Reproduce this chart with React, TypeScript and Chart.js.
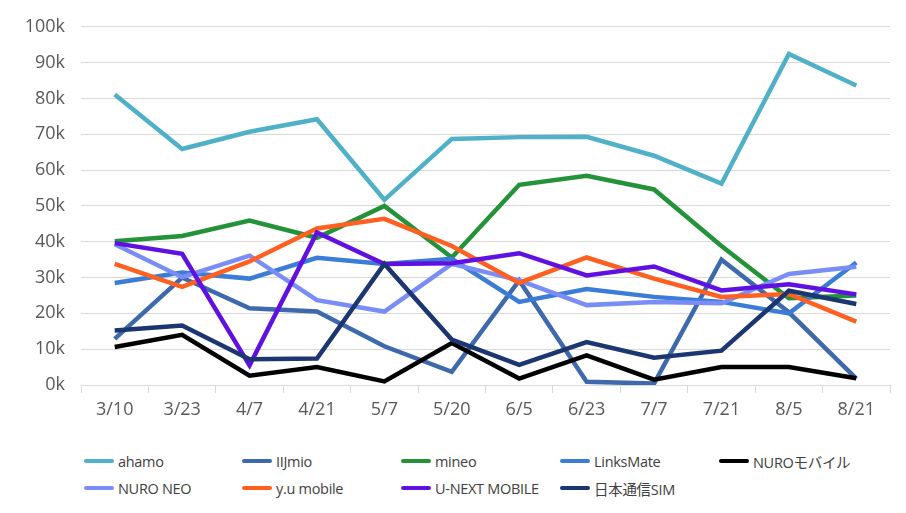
import React, { useEffect, useRef } from "react";
import { Chart, registerables } from "chart.js";

Chart.register(...registerables);

const dates = ["3/10", "3/23", "4/7", "4/21", "5/7", "5/20", "6/5", "6/23", "7/7", "7/21", "8/5", "8/21"];

const ahamo = [81.1, 65.9, 70.7, 74.2, 51.7, 68.7, 69.2, 69.3, 64.0, 56.2, 92.4, 83.6];
const iijmio = [12.9, 30.0, 21.4, 20.5, 10.8, 3.7, 29.2, 0.9, 0.4, 35.0, 20.3, 1.8];
const mineo = [40.1, 41.6, 45.9, 41.1, 50.0, 35.6, 55.9, 58.4, 54.6, 38.8, 24.2, 25.0];
const linksMate = [28.5, 31.4, 29.7, 35.5, 33.8, 35.2, 23.2, 26.8, 24.6, 23.2, 20.0, 34.2];
const nuroMobile = [10.6, 14.0, 2.6, 5.0, 1.0, 11.7, 1.8, 8.3, 1.5, 5.0, 5.0, 1.9];
const nuroNeo = [39.3, 30.1, 36.1, 23.7, 20.5, 33.8, 29.2, 22.3, 23.2, 22.8, 31.0, 33.0];
const yuMobile = [33.8, 27.4, 34.5, 43.7, 46.4, 38.8, 28.5, 35.6, 29.7, 24.6, 25.4, 17.7];
const uNext = [39.6, 36.6, 5.5, 42.6, 33.8, 34.0, 36.8, 30.6, 33.1, 26.4, 28.1, 25.3];
const nihonTsushin = [15.2, 16.6, 7.2, 7.4, 33.8, 12.7, 5.6, 12.0, 7.6, 9.6, 26.3, 22.6];

const yTicks = [0, 10, 20, 30, 40, 50, 60, 70, 80, 90, 100];

const series = [
  { label: "ahamo", data: ahamo, color: "#4FB0C8" },
  { label: "IIJmio", data: iijmio, color: "#3E69AD" },
  { label: "mineo", data: mineo, color: "#239239" },
  { label: "LinksMate", data: linksMate, color: "#3A7CD6" },
  { label: "NUROモバイル", data: nuroMobile, color: "#000000" },
  { label: "NURO NEO", data: nuroNeo, color: "#7A8DF6" },
  { label: "y.u mobile", data: yuMobile, color: "#FF6021" },
  { label: "U-NEXT MOBILE", data: uNext, color: "#6011E2" },
  { label: "日本通信SIM", data: nihonTsushin, color: "#1B3670" },
];

const FONT = "'Open Sans', 'Noto Sans CJK JP', sans-serif";

const App: React.FC = () => {
  const canvasRef = useRef<HTMLCanvasElement | null>(null);

  useEffect(() => {
    if (!canvasRef.current) return;

    const chart = new Chart(canvasRef.current, {
      type: "line",
      data: {
        labels: dates,
        datasets: series.map((s, i) => ({
          label: s.label,
          data: s.data,
          borderColor: s.color,
          backgroundColor: s.color,
          borderWidth: 4.5,
          pointRadius: 0,
          tension: 0,
          order: -i,
        })),
      },
      options: {
        animation: false,
        responsive: false,
        layout: { padding: { top: 18, left: 20, right: 16, bottom: 0 } },
        plugins: { legend: { display: false }, tooltip: { enabled: false } },
        scales: {
          x: {
            offset: true,
            afterFit: (s: any) => { s.height = 55; },
            grid: { offset: true, drawOnChartArea: false, drawTicks: true, tickLength: 8, color: "#d9d9d9" },
            border: { display: true, color: "#d9d9d9" },
            ticks: { color: "#595959", font: { family: FONT, size: 18 }, padding: 6 },
          },
          y: {
            min: 0,
            max: 100,
            afterFit: (s: any) => { s.width = 61; },
            afterBuildTicks: (s: any) => { s.ticks = yTicks.map((v) => ({ value: v })); },
            grid: { color: "#d9d9d9", drawTicks: false },
            border: { display: false },
            ticks: {
              color: "#595959",
              font: { family: FONT, size: 18 },
              padding: 16,
              callback: (v: any) => `${v}k`,
            },
          },
        },
      },
    });

    return () => chart.destroy();
  }, []);

  return (
    <div style={{ position: "absolute", left: 0, top: 0, width: 906, height: 513, background: "#fff", fontFamily: FONT }}>
      <canvas ref={canvasRef} width={906} height={440} style={{ display: "block" }}></canvas>
      <div style={{
        position: "absolute",
        left: 84,
        top: 450,
        display: "grid",
        gridTemplateColumns: "158px 159px 159px 159px 159px",
        rowGap: 5,
      }}>
        {series.map((s) => (
          <div key={s.label} style={{ display: "flex", alignItems: "center", height: 22 }}>
            <span style={{ width: 30, height: 4.5, borderRadius: 2.5, background: s.color, marginRight: 4 }}></span>
            <span style={{ fontSize: 14.5, color: "#404040", letterSpacing: -0.3 }}>{s.label}</span>
          </div>
        ))}
      </div>
    </div>
  );
};

export default App;
